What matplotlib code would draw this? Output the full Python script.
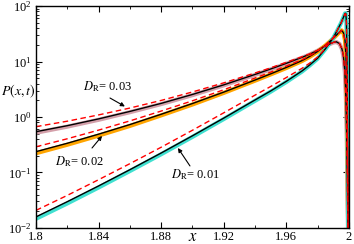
import numpy as np
import matplotlib
matplotlib.use("Agg")
import matplotlib.pyplot as plt
from matplotlib.ticker import LogLocator, MultipleLocator, NullFormatter

plt.rcParams["font.family"] = ["Liberation Serif", "DejaVu Serif"]
plt.rcParams["mathtext.fontset"] = "stix"

# ---- D_R = 0.03 ----
x03 = [1.80, 1.82, 1.84, 1.86, 1.88, 1.90, 1.92, 1.94, 1.95, 1.96, 1.97,
       1.975, 1.98, 1.985, 1.99, 1.992, 1.994, 1.9955, 1.9964, 1.9974,
       1.9981, 1.9987, 1.9992, 2.0]
p03_theory = [0.543, 0.697, 0.924, 1.26, 1.76, 2.55, 3.80, 5.86, 7.35, 9.29,
              11.9, 13.6, 15.9, 19.2, 22.2, 22.7, 21.0, 17.0, 13.0, 6.5,
              2.0, 0.3, 0.02, 0.001]
p03_sim = [0.52, 0.67, 0.89, 1.22, 1.71, 2.48, 3.72, 5.75, 7.22, 9.15,
           11.7, 13.4, 15.7, 19.0, 22.0, 22.5, 20.8, 16.8, 12.8, 6.4,
           2.0, 0.3, 0.02, 0.001]
p03_approx = [0.67, 0.84, 1.09, 1.45, 1.99, 2.83, 4.13, 6.22, 7.7, 9.7,
              12.2, 13.8, 16.0, 19.2, 22.2, 22.7, 21.0, 17.0, 13.0, 6.5,
              2.0, 0.3, 0.02, 0.001]

# ---- D_R = 0.02 ----
x02 = [1.80, 1.82, 1.84, 1.86, 1.88, 1.90, 1.92, 1.94, 1.95, 1.96, 1.97,
       1.975, 1.98, 1.985, 1.99, 1.993, 1.9953, 1.9965, 1.9975, 1.9981,
       1.9985, 1.999, 1.9994, 2.0]
p02_theory = [0.237, 0.336, 0.49, 0.73, 1.12, 1.75, 2.81, 4.64, 6.0, 7.83,
              10.4, 12.4, 15.2, 19.7, 26.3, 32.0, 36.5, 33.0, 24.0, 13.0,
              3.0, 0.3, 0.02, 0.001]
p02_sim = [0.222, 0.316, 0.462, 0.69, 1.07, 1.68, 2.72, 4.52, 5.86, 7.65,
           10.2, 12.2, 15.0, 19.5, 26.1, 31.8, 36.5, 33.0, 24.0, 13.0,
           3.0, 0.3, 0.02, 0.001]
p02_approx = [0.29, 0.405, 0.58, 0.85, 1.28, 1.96, 3.10, 5.05, 6.45, 8.3,
              10.8, 12.7, 15.5, 19.9, 26.4, 32.0, 36.5, 33.0, 24.0, 13.0,
              3.0, 0.3, 0.02, 0.001]

# ---- D_R = 0.01 ----
x01 = [1.80, 1.82, 1.84, 1.86, 1.88, 1.90, 1.92, 1.94, 1.95, 1.96, 1.97,
       1.975, 1.98, 1.985, 1.99, 1.9923, 1.995, 1.9965, 1.9975, 1.998,
       1.9984, 1.9987, 1.999, 1.9993, 1.9996, 2.0]
p01_theory = [0.0158, 0.0297, 0.0571, 0.112, 0.224, 0.458, 0.955, 2.03,
              2.95, 4.40, 6.76, 8.71, 11.5, 17.0, 26.9, 35.5, 50.0, 63.0,
              74.0, 74.0, 52.0, 15.0, 1.5, 0.08, 0.004, 0.001]
p01_sim = [0.0146, 0.0276, 0.0535, 0.106, 0.213, 0.438, 0.918, 1.96,
           2.86, 4.28, 6.6, 8.55, 11.3, 16.8, 26.7, 35.3, 50.0, 63.0,
           74.0, 74.0, 52.0, 15.0, 1.5, 0.08, 0.004, 0.001]
p01_approx = [0.0207, 0.0386, 0.074, 0.144, 0.285, 0.577, 1.19, 2.48,
              3.55, 5.15, 7.55, 9.4, 12.1, 17.4, 27.1, 35.5, 50.0, 63.0,
              73.0, 72.0, 50.0, 14.0, 1.5, 0.08, 0.004, 0.001]

labels = [r"$D_{\mathrm{R}}$= 0.03", r"$D_{\mathrm{R}}$= 0.02", r"$D_{\mathrm{R}}$= 0.01"]
# label centre, arrow tail, arrow head (data coords)
label_pos = [(1.846, 3.47), (1.8275, 0.157), (1.9022, 0.090)]
arrow_tail = [(1.8473, 2.2), (1.8358, 0.276), (1.8984, 0.131)]
arrow_head = [(1.8568, 1.55), (1.8422, 0.455), (1.8907, 0.276)]

fig = plt.figure(figsize=(3.54, 2.44), dpi=100)
ax = fig.add_axes([0.1017, 0.066, 0.884, 0.909])

ax.plot(x03, p03_sim, color="#d4a0aa", lw=3.0, solid_capstyle="butt")
ax.plot(x02, p02_sim, color="#ffa500", lw=3.0, solid_capstyle="butt")
ax.plot(x01, p01_sim, color="#40e0d0", lw=3.0, solid_capstyle="butt")

ax.plot(x03, p03_theory, color="black", lw=1.0)
ax.plot(x02, p02_theory, color="black", lw=1.0)
ax.plot(x01, p01_theory, color="black", lw=1.0)

ax.plot(x03, p03_approx, color="red", lw=1.0, ls=(0, (4, 2.5)))
ax.plot(x02, p02_approx, color="red", lw=1.0, ls=(0, (4, 2.5)))
ax.plot(x01, p01_approx, color="red", lw=1.0, ls=(0, (4, 2.5)))

for lab, pos, tail, head in zip(labels, label_pos, arrow_tail, arrow_head):
    ax.text(pos[0], pos[1], lab, fontsize=9, ha="center", va="center")
    ax.annotate("", xy=head, xytext=tail,
                arrowprops=dict(arrowstyle="-|>", color="black", lw=0.8,
                                mutation_scale=6, shrinkA=0, shrinkB=0))

ax.set_yscale("log")
ax.set_xlim(1.8, 2.0)
ax.set_ylim(1e-2, 1e2)

ax.set_xticks([1.8, 1.84, 1.88, 1.92, 1.96, 2.0])
ax.set_xticklabels(["1.8", "1.84", "1.88", "1.92", "1.96", "2"])
ax.xaxis.set_minor_locator(MultipleLocator(0.02))
ax.yaxis.set_major_locator(LogLocator(base=10, numticks=10))
ax.yaxis.set_minor_locator(LogLocator(base=10, subs=np.arange(2, 10), numticks=10))
ax.yaxis.set_minor_formatter(NullFormatter())

ax.tick_params(which="both", direction="in", top=True, right=True, labelsize=9, pad=2)
ax.tick_params(axis="y", pad=3)
ax.tick_params(which="major", length=4.5, width=0.8)
ax.tick_params(which="minor", length=2.5, width=0.6)
for s in ax.spines.values():
    s.set_linewidth(1.0)

fig.text(193 / 354, 1 - 237 / 244, r"$x$", fontsize=12, ha="center", va="center")
fig.text(1 / 354, 1 - 91 / 244, r"$P(x,t)$", fontsize=10, ha="left", va="center")

fig.savefig("out.png", dpi=100)
